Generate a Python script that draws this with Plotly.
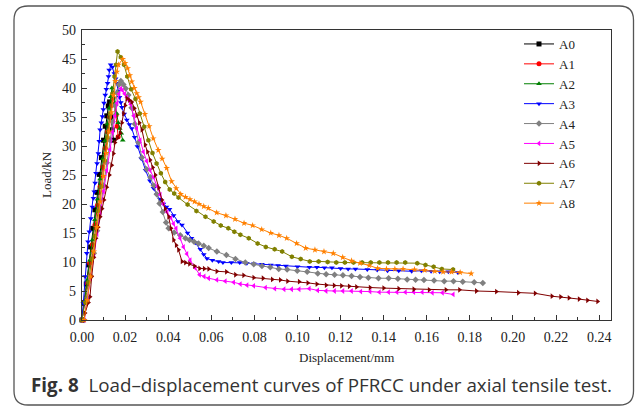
import plotly.graph_objects as go

# Load–displacement data (displacement in mm, load in kN) for each specimen group
A0 = [(0, 0), (0.0010, 3.0), (0.0020, 6.2), (0.0030, 9.5), (0.0040, 12.6), (0.0050, 15.8),
      (0.0060, 19.0), (0.0070, 22.0), (0.0080, 25.1), (0.0090, 28.0), (0.0100, 31.0),
      (0.0108, 33.4), (0.0115, 35.2), (0.0122, 36.9), (0.0128, 37.6), (0.0134, 35.0),
      (0.0140, 32.8), (0.0146, 31.0)]

A1 = [(0, 0), (0.0012, 3.1), (0.0024, 6.4), (0.0036, 9.8), (0.0048, 13.0), (0.0060, 16.4),
      (0.0072, 19.8), (0.0084, 23.0), (0.0096, 26.4), (0.0108, 29.6), (0.0118, 32.4),
      (0.0128, 35.0), (0.0137, 37.0), (0.0145, 38.3), (0.0152, 37.2), (0.0158, 35.3),
      (0.0163, 33.4), (0.0168, 31.6)]

A2 = [(0, 0), (0.0012, 3.3), (0.0024, 6.8), (0.0036, 10.3), (0.0048, 13.8), (0.0060, 17.3),
      (0.0072, 20.8), (0.0084, 24.3), (0.0096, 27.8), (0.0107, 30.9), (0.0117, 33.8),
      (0.0126, 36.5), (0.0133, 38.5), (0.0139, 40.0), (0.0146, 39.2), (0.0153, 37.4),
      (0.0161, 35.6), (0.0168, 34.0), (0.0175, 33.0), (0.0182, 32.2), (0.0189, 31.0)]

A3 = [(0, 0), (0.0006, 2.9), (0.0014, 7.5), (0.0022, 11.5), (0.0028, 13.5), (0.0034, 15.2),
      (0.0041, 17.5), (0.0048, 19.5), (0.0053, 21.0), (0.0057, 22.1), (0.0061, 23.6),
      (0.0065, 25.3), (0.0070, 27.0), (0.0076, 28.7), (0.0080, 30.8), (0.0084, 32.8),
      (0.0090, 34.0), (0.0095, 35.1), (0.0099, 36.3), (0.0102, 37.4), (0.0108, 38.8),
      (0.0113, 39.8), (0.0119, 40.8), (0.0123, 42.0), (0.0126, 43.1), (0.0133, 44.0),
      (0.0141, 43.6), (0.0150, 42.5), (0.0156, 41.6), (0.0161, 40.8), (0.0168, 39.5),
      (0.0174, 38.4), (0.0180, 37.5), (0.0185, 36.7), (0.0196, 35.5), (0.0208, 34.5),
      (0.0220, 33.7), (0.0231, 33.0), (0.0244, 31.5), (0.0257, 29.9), (0.0275, 27.8),
      (0.0295, 25.8), (0.0315, 24.0), (0.0332, 22.7), (0.0347, 21.6), (0.0362, 20.8),
      (0.0378, 20.0), (0.0392, 19.5), (0.0406, 19.1), (0.0425, 18.0), (0.0445, 17.0),
      (0.0464, 16.4), (0.0490, 15.0), (0.0508, 14.1), (0.0526, 13.3), (0.0549, 12.2),
      (0.0565, 11.3), (0.0580, 10.6), (0.0605, 10.3), (0.0634, 10.1), (0.0654, 9.9),
      (0.0693, 9.9), (0.0732, 9.9), (0.0765, 9.8), (0.0797, 9.7), (0.0835, 9.6),
      (0.0876, 9.5), (0.0910, 9.4), (0.0946, 9.3), (0.1000, 9.2), (0.1055, 9.1),
      (0.1090, 9.1), (0.1125, 9.0), (0.1160, 9.0), (0.1200, 8.9), (0.1235, 8.8),
      (0.1269, 8.8), (0.1324, 8.7), (0.1370, 8.6), (0.1418, 8.5), (0.1470, 8.5),
      (0.1530, 8.4), (0.1575, 8.5), (0.1620, 8.4), (0.1660, 8.3), (0.1700, 8.3),
      (0.1744, 8.2)]

A4 = [(0.0010, 0), (0.0025, 3.8), (0.0040, 7.6), (0.0055, 11.5), (0.0070, 15.4),
      (0.0085, 19.3), (0.0100, 23.2), (0.0115, 27.1), (0.0130, 31.0), (0.0142, 34.2),
      (0.0153, 37.0), (0.0163, 39.2), (0.0172, 40.6), (0.0180, 41.2), (0.0192, 40.6),
      (0.0203, 39.9), (0.0215, 38.8), (0.0230, 36.6), (0.0245, 33.8), (0.0262, 30.6),
      (0.0278, 28.0), (0.0300, 26.0), (0.0318, 24.6), (0.0333, 23.2), (0.0347, 21.7),
      (0.0360, 20.1), (0.0375, 18.6), (0.0390, 16.8), (0.0402, 15.8), (0.0428, 15.1),
      (0.0456, 14.6), (0.0480, 14.1), (0.0499, 13.8), (0.0520, 13.5), (0.0541, 13.2),
      (0.0565, 12.8), (0.0588, 12.4), (0.0626, 11.8), (0.0670, 11.2), (0.0712, 10.5),
      (0.0758, 9.9), (0.0797, 9.6), (0.0835, 9.3), (0.0874, 9.1), (0.0913, 8.8),
      (0.0952, 8.7), (0.0999, 8.5), (0.1045, 8.3), (0.1094, 8.0), (0.1133, 7.9),
      (0.1172, 7.8), (0.1211, 7.7), (0.1251, 7.6), (0.1290, 7.4), (0.1329, 7.3),
      (0.1376, 7.2), (0.1423, 7.2), (0.1466, 7.1), (0.1509, 7.0), (0.1548, 6.95),
      (0.1587, 6.9), (0.1634, 6.8), (0.1681, 6.7), (0.1724, 6.7), (0.1767, 6.6),
      (0.1820, 6.5), (0.1860, 6.4)]

A5 = [(0.0010, 0), (0.0025, 3.5), (0.0040, 7.2), (0.0055, 11.0), (0.0070, 14.8),
      (0.0085, 18.5), (0.0100, 22.2), (0.0115, 25.8), (0.0130, 29.4), (0.0142, 32.4),
      (0.0153, 35.2), (0.0163, 37.4), (0.0172, 39.0), (0.0180, 39.9), (0.0188, 39.6),
      (0.0198, 39.0), (0.0208, 38.4), (0.0217, 37.9), (0.0226, 37.2), (0.0240, 35.2),
      (0.0254, 33.0), (0.0270, 31.0), (0.0285, 29.0), (0.0300, 27.4), (0.0316, 25.8),
      (0.0332, 24.6), (0.0350, 23.0), (0.0363, 21.6), (0.0378, 20.0), (0.0395, 18.6),
      (0.0413, 17.6), (0.0425, 16.6), (0.0437, 15.8), (0.0455, 14.1), (0.0471, 12.6),
      (0.0487, 11.4), (0.0502, 10.3), (0.0525, 9.0), (0.0546, 7.8), (0.0567, 7.5),
      (0.0588, 7.2), (0.0626, 6.9), (0.0665, 6.7), (0.0704, 6.5), (0.0735, 6.2),
      (0.0766, 6.0), (0.0797, 5.9), (0.0852, 5.6), (0.0895, 5.4), (0.0938, 5.3),
      (0.0973, 5.3), (0.1008, 5.3), (0.1055, 5.4), (0.1094, 5.1), (0.1133, 5.0),
      (0.1172, 5.0), (0.1211, 5.0), (0.1251, 5.0), (0.1294, 4.9), (0.1337, 4.9),
      (0.1380, 4.8), (0.1423, 4.8), (0.1462, 4.8), (0.1501, 4.8), (0.1540, 4.8),
      (0.1579, 4.8), (0.1626, 4.7), (0.1673, 4.7), (0.1723, 4.4)]

A6 = [(0.0010, 0), (0.0014, 1.2), (0.0030, 3.0), (0.0037, 4.0), (0.0045, 7.5), (0.0055, 10.8),
      (0.0065, 14.1), (0.0075, 16.0), (0.0084, 17.8), (0.0093, 19.2), (0.0102, 20.7),
      (0.0115, 22.9), (0.0127, 25.0), (0.0138, 26.7), (0.0146, 28.7), (0.0153, 30.6),
      (0.0165, 31.4), (0.0177, 32.2), (0.0185, 34.0), (0.0192, 35.6), (0.0200, 37.0),
      (0.0208, 38.2), (0.0220, 37.9), (0.0231, 37.6), (0.0243, 36.5), (0.0254, 35.3),
      (0.0266, 34.0), (0.0278, 32.8), (0.0293, 30.2), (0.0304, 29.0), (0.0316, 27.6),
      (0.0328, 26.3), (0.0340, 25.0), (0.0356, 22.8), (0.0371, 20.7), (0.0386, 19.2),
      (0.0402, 17.8), (0.0413, 15.8), (0.0425, 13.8), (0.0437, 12.9), (0.0448, 12.1),
      (0.0464, 10.1), (0.0480, 9.9), (0.0499, 9.7), (0.0522, 9.3), (0.0546, 8.9),
      (0.0567, 8.85), (0.0588, 8.8), (0.0626, 8.4), (0.0670, 8.3), (0.0712, 7.8),
      (0.0750, 7.7), (0.0797, 7.3), (0.0840, 7.2), (0.0883, 7.0), (0.0920, 6.9),
      (0.0954, 6.7), (0.1008, 6.6), (0.1048, 6.4), (0.1090, 6.2), (0.1133, 6.0),
      (0.1170, 5.95), (0.1204, 5.9), (0.1240, 5.8), (0.1274, 5.7), (0.1337, 5.6),
      (0.1400, 5.5), (0.1470, 5.4), (0.1540, 5.3), (0.1611, 5.2), (0.1689, 5.2),
      (0.1752, 5.2), (0.1830, 5.0), (0.1923, 4.9), (0.2025, 4.7), (0.2103, 4.6),
      (0.2181, 4.1), (0.2221, 4.0), (0.2260, 3.8), (0.2307, 3.6), (0.2346, 3.4),
      (0.2393, 3.2)]

A7 = [(0, 0), (0.0015, 3.0), (0.0030, 6.5), (0.0045, 10.5), (0.0060, 14.5), (0.0075, 18.8),
      (0.0090, 23.0), (0.0105, 27.5), (0.0118, 31.5), (0.0130, 35.5), (0.0141, 39.0),
      (0.0151, 42.0), (0.0158, 44.0), (0.0165, 46.3), (0.0180, 45.3), (0.0195, 44.0),
      (0.0210, 42.0), (0.0228, 39.8), (0.0248, 38.1), (0.0268, 35.6), (0.0289, 33.3),
      (0.0308, 31.0), (0.0327, 28.8), (0.0346, 27.0), (0.0366, 25.3), (0.0386, 23.8),
      (0.0407, 22.5), (0.0428, 21.8), (0.0448, 21.1), (0.0490, 19.9), (0.0531, 18.8),
      (0.0573, 17.8), (0.0611, 17.0), (0.0644, 16.3), (0.0679, 15.8), (0.0707, 15.2),
      (0.0735, 14.7), (0.0774, 14.1), (0.0815, 13.2), (0.0853, 12.6), (0.0894, 12.2),
      (0.0929, 11.8), (0.0974, 10.9), (0.1015, 10.5), (0.1057, 10.1), (0.1098, 10.1),
      (0.1140, 10.0), (0.1180, 9.9), (0.1220, 9.9), (0.1260, 9.9), (0.1300, 9.9),
      (0.1340, 9.9), (0.1380, 9.9), (0.1420, 9.9), (0.1460, 9.9), (0.1500, 9.9),
      (0.1556, 9.8), (0.1594, 9.5), (0.1632, 9.2), (0.1670, 8.8), (0.1722, 8.7)]

A8 = [(0.0010, 0), (0.0025, 3.4), (0.0040, 7.5), (0.0055, 11.8), (0.0070, 16.0),
      (0.0085, 20.4), (0.0100, 24.8), (0.0113, 28.8), (0.0125, 32.5), (0.0136, 35.8),
      (0.0146, 38.8), (0.0155, 41.2), (0.0162, 42.8), (0.0169, 44.0), (0.0189, 45.0),
      (0.0200, 44.3), (0.0212, 43.4), (0.0222, 42.2), (0.0231, 41.1), (0.0243, 40.0),
      (0.0254, 39.1), (0.0263, 38.4), (0.0272, 37.6), (0.0292, 35.5), (0.0312, 33.4),
      (0.0331, 31.3), (0.0354, 29.3), (0.0372, 27.8), (0.0393, 26.2), (0.0416, 23.9),
      (0.0437, 22.7), (0.0458, 21.7), (0.0480, 21.2), (0.0501, 20.8), (0.0522, 20.4),
      (0.0543, 20.0), (0.0565, 19.6), (0.0586, 19.3), (0.0625, 18.5), (0.0668, 18.0),
      (0.0710, 17.4), (0.0752, 16.7), (0.0792, 16.3), (0.0834, 15.6), (0.0876, 15.0),
      (0.0914, 14.6), (0.0950, 14.1), (0.0996, 13.2), (0.1038, 12.4), (0.1081, 12.1),
      (0.1123, 11.8), (0.1166, 11.5), (0.1210, 10.8), (0.1251, 10.2), (0.1290, 9.8),
      (0.1333, 9.4), (0.1372, 8.9), (0.1413, 8.8), (0.1452, 8.8), (0.1490, 8.8),
      (0.1543, 8.7), (0.1590, 8.6), (0.1637, 8.4), (0.1676, 8.3), (0.1715, 8.3),
      (0.1755, 8.2), (0.1806, 8.0)]

series_names = ["A0", "A1", "A2", "A3", "A4", "A5", "A6", "A7", "A8"]
series_data = [A0, A1, A2, A3, A4, A5, A6, A7, A8]
colors = ["#000000", "#ff0000", "#008000", "#0000ff", "#808080",
          "#ff00ff", "#800000", "#808000", "#ff8000"]
symbols = ["square", "circle", "triangle-up", "triangle-down", "diamond",
           "triangle-left", "triangle-right", "hexagon", "star"]

x_ticks = [0.00, 0.02, 0.04, 0.06, 0.08, 0.10, 0.12, 0.14, 0.16, 0.18, 0.20, 0.22, 0.24]
y_ticks = [0, 5, 10, 15, 20, 25, 30, 35, 40, 45, 50]
x_tick_labels = [f"{v:.2f}" for v in x_ticks]
y_tick_labels = [str(v) for v in y_ticks]
x_range = [0, 0.2455]
y_range = [0, 50]

W, H = 635, 408
ML, MR, MT, MB = 82, 24, 30, 88
PW, PH = W - ML - MR, H - MT - MB


def px(xp):
    return (xp - ML) / PW


def py(yp):
    return (H - MB - yp) / PH


fig = go.Figure()
for name, data, c, s in zip(series_names, series_data, colors, symbols):
    fig.add_trace(go.Scatter(
        x=[p[0] for p in data], y=[p[1] for p in data],
        name=name, mode="lines+markers", cliponaxis=False,
        line=dict(color=c, width=1),
        marker=dict(color=c, symbol=s, size=5, line=dict(width=0)),
    ))

SERIF = "Liberation Serif"
tick_font = dict(family=SERIF, size=14, color="#222222")
axis_common = dict(
    showline=True, linecolor="#333333", linewidth=1.3, mirror=True,
    ticks="inside", ticklen=5, tickwidth=1, tickcolor="#333333",
    showgrid=False, zeroline=False, tickfont=tick_font,
)

fig.update_layout(
    width=W, height=H,
    margin=dict(l=ML, r=MR, t=MT, b=MB),
    paper_bgcolor="white", plot_bgcolor="white",
    font=dict(family=SERIF, size=14, color="#222222"),
    showlegend=True,
    legend=dict(x=px(519), y=py(29), xanchor="left", yanchor="top",
                bgcolor="rgba(0,0,0,0)", borderwidth=0,
                font=dict(family=SERIF, size=13, color="#222222"),
                tracegroupgap=0, itemwidth=30),
    xaxis=dict(range=x_range, tickmode="array", tickvals=x_ticks,
               ticktext=x_tick_labels, ticklabelstandoff=4,
               minor=dict(ticks="inside", ticklen=3, dtick=0.01, tick0=0,
                          tickcolor="#333333", showgrid=False),
               **axis_common),
    yaxis=dict(range=y_range, tickmode="array", tickvals=y_ticks,
               ticktext=y_tick_labels, ticklabelstandoff=2,
               minor=dict(ticks="inside", ticklen=3, dtick=2.5, tick0=0,
                          tickcolor="#333333", showgrid=False),
               **axis_common),
)

# rounded frame around the whole figure
x0, x1, y0, y1, r = 14, 633.5, 6, 405, 14
frame = (f"M {px(x0 + r)},{py(y0)} L {px(x1 - r)},{py(y0)} "
         f"Q {px(x1)},{py(y0)} {px(x1)},{py(y0 + r)} "
         f"L {px(x1)},{py(y1 - r)} Q {px(x1)},{py(y1)} {px(x1 - r)},{py(y1)} "
         f"L {px(x0 + r)},{py(y1)} Q {px(x0)},{py(y1)} {px(x0)},{py(y1 - r)} "
         f"L {px(x0)},{py(y0 + r)} Q {px(x0)},{py(y0)} {px(x0 + r)},{py(y0)} Z")
fig.add_shape(type="path", path=frame, xref="paper", yref="paper",
              fillcolor="rgba(0,0,0,0)",
              line=dict(color="#555555", width=1.3), layer="below")

fig.add_annotation(text="Displacement/mm", x=0.5, y=py(357), xref="paper", yref="paper",
                   showarrow=False, xanchor="center", yanchor="middle",
                   font=dict(family=SERIF, size=13, color="#222222"))
fig.add_annotation(text="Load/kN", x=px(46), y=0.5, xref="paper", yref="paper",
                   showarrow=False, textangle=-90, xanchor="center", yanchor="middle",
                   font=dict(family=SERIF, size=13, color="#222222"))
fig.add_annotation(text="<b>Fig. 8</b>  Load–displacement curves of PFRCC under axial tensile test.",
                   x=px(29), y=py(385), xref="paper", yref="paper",
                   showarrow=False, xanchor="left", yanchor="middle",
                   font=dict(family="Open Sans", size=18.8, color="#333333"))

fig.write_html("out.html")
